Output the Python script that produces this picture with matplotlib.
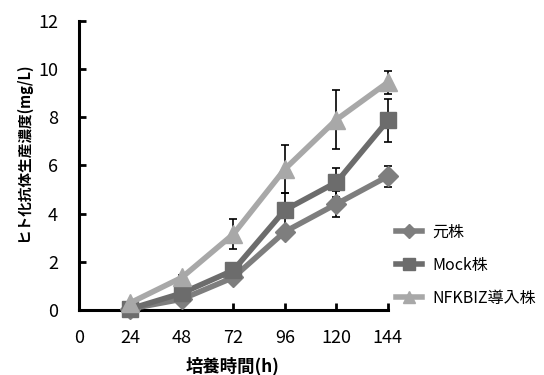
import matplotlib
matplotlib.use("Agg")
import matplotlib.pyplot as plt

plt.rcParams['font.family'] = ['Noto Sans CJK JP', 'DejaVu Sans']

hours = [24, 48, 72, 96, 120, 144]
x_ticks = [0, 24, 48, 72, 96, 120, 144]

labels = ["元株", "Mock株", "NFKBIZ導入株"]
moto = [0.05, 0.45, 1.35, 3.25, 4.4, 5.55]
moto_err = [0.05, 0.1, 0.1, 0.15, 0.52, 0.43]
mock = [0.05, 0.7, 1.65, 4.15, 5.3, 7.87]
mock_err = [0.05, 0.1, 0.15, 0.7, 0.6, 0.88]
nfkbiz = [0.3, 1.35, 3.15, 5.85, 7.9, 9.45]
nfkbiz_err = [0.05, 0.1, 0.62, 1.0, 1.23, 0.47]

series = [
    (moto, moto_err, "D", 10, "#7e7e7e"),
    (mock, mock_err, "s", 12, "#6c6c6c"),
    (nfkbiz, nfkbiz_err, "^", 13, "#a8a8a8"),
]

fig = plt.figure(figsize=(5.44, 3.75), dpi=100)
ax = fig.add_axes([0.145, 0.1733, 0.568, 0.771])

handles = []
for (vals, errs, mk, ms, col), lab in zip(series, labels):
    ax.errorbar(hours, vals, yerr=errs, fmt="none", ecolor="black",
                elinewidth=1.2, capsize=3, capthick=1.2, zorder=2, clip_on=False)
    h, = ax.plot(hours, vals, marker=mk, markersize=ms, color=col, lw=4,
                 label=lab, zorder=3, clip_on=False)
    handles.append(h)

ax.set_xlim(0, 144)
ax.set_ylim(0, 12)
ax.set_xticks(x_ticks)
ax.set_yticks(range(0, 13, 2))
ax.spines["top"].set_visible(False)
ax.spines["right"].set_visible(False)
for s in ("left", "bottom"):
    ax.spines[s].set_linewidth(2.2)
ax.tick_params(direction="in", length=5, width=2, labelsize=13)
ax.tick_params(axis="y", pad=15)
ax.tick_params(axis="x", pad=14)

# axis titles placed where the reference has them
fig.text(233 / 544, 1 - 366 / 375, "培養時間(h)", fontsize=12.5,
         fontweight="bold", ha="center", va="center")
fig.text(23 / 544, 1 - 152 / 375, "ヒト化抗体生産濃度(mg/L)", fontsize=10.5,
         fontweight="bold", ha="center", va="center", rotation=90)

fig.legend(handles=handles, labels=labels, loc="center left",
           bbox_to_anchor=(0.728, 0.293), frameon=False, fontsize=11.5,
           handlelength=1.65, handletextpad=0.6, labelspacing=1.0,
           borderpad=0, borderaxespad=0, markerscale=0.7)

fig.savefig("out.png", dpi=100, facecolor="white")
